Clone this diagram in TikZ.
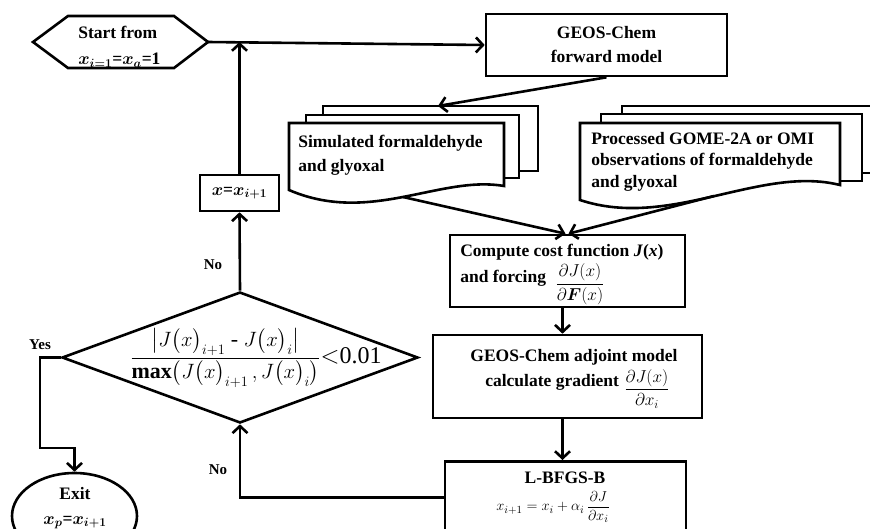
\documentclass[tikz,border=0pt]{standalone}
\usepackage{fontspec}
\usepackage{amsmath}
\setmainfont{Liberation Serif}
\usetikzlibrary{arrows.meta,shapes.geometric}
\begin{document}
\begin{tikzpicture}[x=1pt,y=-1pt,
  line width=2.6pt, line join=miter,
  arr/.style={-{Straight Barb[length=7pt,width=15pt]}},
  box/.style={draw, fill=white, rectangle, inner sep=0pt},
  txt/.style={font=\fontsize{17.5}{24}\selectfont\bfseries, inner sep=0pt},
  lbl/.style={font=\fontsize{15}{18}\selectfont\bfseries, inner sep=0pt},
  mth/.style={font=\fontsize{15}{16}\selectfont, inner sep=0pt},
]
\useasboundingbox (0,0) rectangle (870,528);
\clip (0,0) rectangle (870,528);

% start hexagon
\draw[fill=white] (33,42) -- (68,16) -- (174,16) -- (208,42) -- (174,68) -- (68,68) -- cycle;
\coordinate (startR) at (208,42);
\node[txt, align=left, anchor=west, font=\fontsize{17.5}{26}\selectfont\bfseries] (start) at (77,47) {Start from\\{\boldmath$x_{i=1}$}={\boldmath$x_a$}=1};

% forward model
\node[box, minimum width=241pt, minimum height=62pt, txt, align=center] (fwd) at (606.5,45) {GEOS-Chem\\forward model};

% simulated stack
\draw[fill=white] (323,106) rectangle (538,171);
\draw[fill=white] (306,115) rectangle (519,178);
\draw[fill=white] (289,190) -- (289,123) -- (504,123) -- (504,186) .. controls (440,175) and (370,225) .. (289,190) -- cycle;
\node[txt, align=left, anchor=west] (simtext) at (297,155) {Simulated formaldehyde\\and glyoxal};
\coordinate (simT) at (438,106);
\coordinate (simB) at (403,197);

% processed stack
\draw[fill=white] (622,106) rectangle (890,173);
\draw[fill=white] (601,114) rectangle (862,181);
\draw[fill=white] (580,200) -- (580,123) -- (840,123) -- (840,185) .. controls (760,165) and (670,230) .. (580,200) -- cycle;
\node[txt, align=left, anchor=west, font=\fontsize{17.5}{21.5}\selectfont\bfseries] (proctext) at (590,161.5) {Processed GOME-2A or OMI\\observations of formaldehyde\\and glyoxal};
\coordinate (procB) at (714,196);

% cost function
\node[box, minimum width=235pt, minimum height=72pt] (cost) at (567.5,271) {};
\node[txt, anchor=west] (costA) at (459,252) {Compute cost function \textit{J}(\textit{x})};
\node[txt, anchor=west] (costB) at (459,278) {and forcing};
\node[mth, font=\fontsize{16.5}{18}\selectfont] (costF) at (580,284) {$\displaystyle\frac{\partial J(x)}{\partial \boldsymbol{F}(x)}$};

% adjoint
\node[box, minimum width=269pt, minimum height=83pt] (adj) at (567.5,376.5) {};
\node[txt, anchor=center] (adjA) at (574,357) {GEOS-Chem adjoint model};
\node[txt, anchor=west] (adjB) at (484,382) {calculate gradient};
\node[mth, font=\fontsize{16.5}{18}\selectfont] (adjF) at (647,389) {$\displaystyle\frac{\partial J(x)}{\partial x_i}$};

% L-BFGS-B
\node[box, minimum width=241pt, minimum height=90pt, anchor=north] (lb) at (565.5,460) {};
\node[txt] (lbA) at (565,478) {L-BFGS-B};
\node[mth] (lbF) at (553,507) {$x_{i+1}=x_i+\alpha_i\,\dfrac{\partial J}{\partial x_i}$};

% decision diamond
\node[draw, diamond, minimum width=356pt, minimum height=131pt, inner sep=0pt] (dec) at (240,357.5) {};
\node[inner sep=0pt, font=\fontsize{22}{24}\selectfont] (dectext) at (256,358)
  {$\dfrac{\bigl|J\bigl(x\bigr)_{i+1}\ \text{-}\ J\bigl(x\bigr)_{i}\bigr|}{\mathbf{max}\bigl(J\bigl(x\bigr)_{i+1}\,,J\bigl(x\bigr)_{i}\bigr)}$\fontsize{24}{26}\selectfont$<$0.01};

% x = x_{i+1}
\node[box, minimum width=79pt, minimum height=36pt, txt] (xb) at (239.5,193) {{\boldmath$x$}={\boldmath$x_{i+1}$}};

% exit
\node[draw, ellipse, minimum width=125pt, minimum height=86pt, inner sep=0pt] (exit) at (74.5,516) {};
\node[txt, align=center, font=\fontsize{17.5}{25}\selectfont\bfseries] (exittext) at (75,508) {Exit\\{\boldmath$x_p$}={\boldmath$x_{i+1}$}};

% connectors
\draw[arr] (startR) -- (fwd.west);
\draw[arr] (xb.north) -- (xb.north |- startR);
\draw[arr] (fwd.south) -- (simT);
\draw[arr] (simB) -- ([xshift=-2pt]cost.north);
\draw[arr] (procB) -- ([xshift=1pt]cost.north);
\draw[arr] ([xshift=-5pt]cost.south) -- ([xshift=-5pt]cost.south |- adj.north);
\draw[arr] ([xshift=-5pt]adj.south) -- ([xshift=-5pt]adj.south |- lb.north);
\draw[arr] ([yshift=9pt]lb.west) -| (dec.south);
\draw[arr] (dec.north) -- (xb.south);
\draw[arr] (dec.west) -- (dec.west -| 40,0) -- (40,448) -- (exit.north |- 0,448) -- (exit.north);

% labels
\node[lbl] (no1) at (213,265) {No};
\node[lbl] (no2) at (218,470) {No};
\node[lbl] (yes) at (40,345) {Yes};
\end{tikzpicture}
\end{document}
